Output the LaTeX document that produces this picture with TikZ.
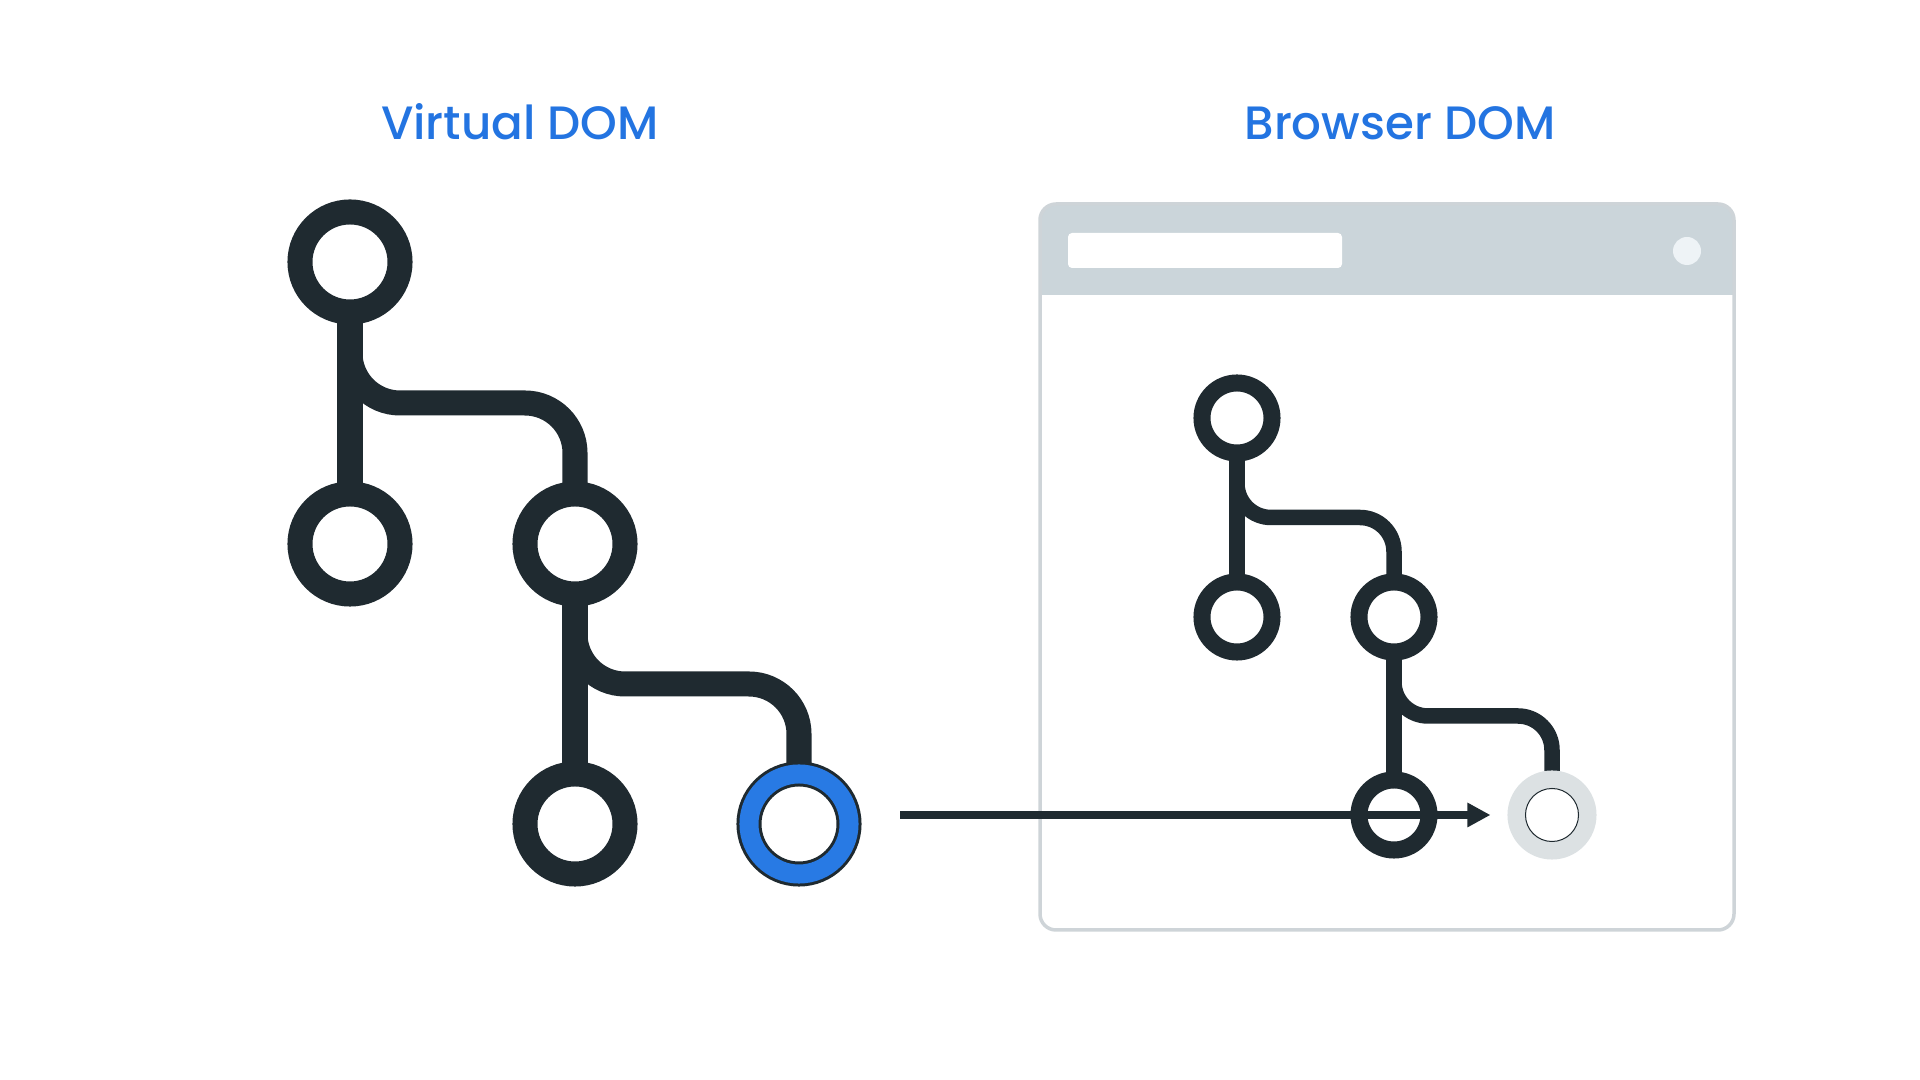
\documentclass[tikz,border=0pt]{standalone}
\usepackage{fontspec}
\setmainfont{Poppins}
\IfFontExistsTF{Poppins Medium}{\newfontfamily\titlefont{Poppins Medium}}{\newfontfamily\titlefont{Poppins}[FakeBold=0.6]}
\usepackage{tikz}
\usetikzlibrary{arrows.meta, positioning, calc, backgrounds}
\definecolor{inkdark}{RGB}{31,42,48}
\definecolor{fbblue}{RGB}{40,122,228}
\definecolor{titleblue}{RGB}{35,116,225}
\definecolor{framegray}{RGB}{206,212,216}
\definecolor{bargray}{RGB}{203,213,218}
\definecolor{ghostgray}{RGB}{220,225,227}
\definecolor{dotwhite}{RGB}{238,243,246}

\begin{document}
\begin{tikzpicture}[
    x=0.01cm, y=-0.01cm,
    title/.style={font=\titlefont\fontsize{13.3}{16}\selectfont, text=titleblue, anchor=base},
    bignode/.style={circle, draw=inkdark, line width=0.25cm, minimum size=1cm, inner sep=0pt, fill=white},
    changed/.style={bignode, draw=inkdark, double=fbblue, line width=0.03cm, double distance=0.19cm},
    smallnode/.style={circle, draw=inkdark, line width=0.17cm, minimum size=0.7cm, inner sep=0pt, fill=white},
    ghost/.style={smallnode, draw=ghostgray, line width=0.18cm, minimum size=0.71cm},
    biglink/.style={draw=inkdark, line width=0.25cm, rounded corners=0.5cm},
    smalllink/.style={draw=inkdark, line width=0.155cm, rounded corners=0.34cm},
    arrow/.style={-{Triangle[length=0.23cm, width=0.23cm]}, draw=inkdark, line width=0.08cm}
]
\useasboundingbox (0,0) rectangle (1920,1080);

% Titles
\node[title] (vtitle) at (520,140) {Virtual DOM};
\node[title] (btitle) at (1400,140) {Browser DOM};

% Browser window
\fill[bargray, rounded corners=0.16cm] (1040,204) rectangle (1734,295);
\fill[bargray] (1040,260) rectangle (1734,295);
\fill[white, rounded corners=0.04cm] (1068,233) rectangle (1342,268);
\fill[dotwhite] (1687,251) circle (0.14cm);
\draw[framegray, line width=0.035cm, rounded corners=0.16cm] (1040,204) rectangle (1734,930);

% Virtual tree
\node[bignode] (vroot) at (350,262) {};
\node[bignode] (vleft) at (350,544) {};
\node[bignode] (vright) at (575,544) {};
\node[bignode] (vbottom) at (575,824) {};
\node[changed] (vchanged) at (799,824) {};

% Browser tree
\node[smallnode] (broot) at (1237,418) {};
\node[smallnode] (bleft) at (1237,617) {};
\node[smallnode] (bright) at (1394,617) {};
\node[smallnode] (bbottom) at (1394,815) {};
\node[ghost] (bghost) at (1552,815) {};
\draw[inkdark, line width=0.01cm] (bghost.center) circle (0.265cm);

% Links
\begin{scope}[on background layer]
\fill[white] (0,0) rectangle (1920,1080);
\draw[biglink] (vroot.center) -- (vleft.center);
\draw[biglink] (vroot.center) |- ($(vroot)!0.5!(vright)$) -| (vright.center);
\draw[biglink] (vright.center) -- (vbottom.center);
\draw[biglink] (vright.center) |- ($(vright)!0.5!(vchanged)$) -| (vchanged.center);
\draw[smalllink] (broot.center) -- (bleft.center);
\draw[smalllink] (broot.center) |- ($(broot)!0.5!(bright)$) -| (bright.center);
\draw[smalllink] (bright.center) -- (bbottom.center);
\draw[smalllink] (bright.center) |- ($(bright)!0.5!(bghost)$) -| (bghost.center);
\end{scope}

% Patch arrow
\coordinate (diffstart) at (900,815);
\draw[arrow, shorten >=0.17cm] (diffstart) -- (bghost.west);
\end{tikzpicture}
\end{document}
